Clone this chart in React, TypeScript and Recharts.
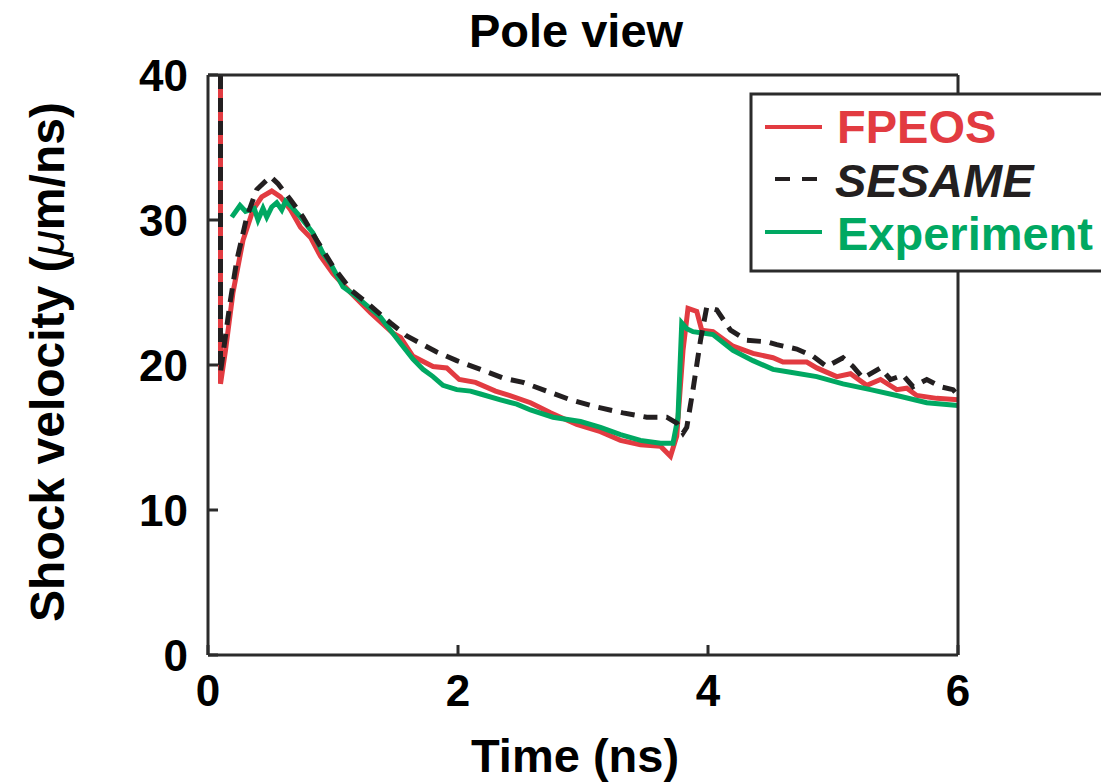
import React from 'react';
import { LineChart, Line, XAxis, YAxis } from 'recharts';

// time (ns) / shock velocity (um/ns)
const fpeosT = [0.1, 0.1, 0.14, 0.2, 0.28, 0.36, 0.43, 0.51, 0.58, 0.66, 0.74, 0.82, 0.9, 1.0, 1.14, 1.3, 1.48, 1.54, 1.64, 1.8, 1.91, 2.01, 2.14, 2.3, 2.41, 2.58, 2.74, 2.95, 3.14, 3.3, 3.46, 3.62, 3.7, 3.75, 3.8, 3.84, 3.91, 3.95, 4.04, 4.2, 4.36, 4.52, 4.6, 4.79, 4.87, 5.03, 5.14, 5.27, 5.38, 5.51, 5.59, 5.67, 5.83, 6.0];
const fpeosV = [40, 18.7, 21.0, 25.0, 28.6, 30.7, 31.6, 32.0, 31.6, 30.7, 29.5, 28.8, 27.5, 26.3, 25.0, 23.6, 22.2, 21.9, 20.6, 19.9, 19.8, 19.0, 18.8, 18.2, 17.9, 17.4, 16.7, 15.9, 15.4, 14.8, 14.5, 14.4, 13.7, 15.1, 21.0, 23.9, 23.7, 22.4, 22.3, 21.3, 20.8, 20.5, 20.2, 20.2, 19.8, 19.2, 19.4, 18.6, 19.0, 18.3, 18.4, 17.9, 17.7, 17.6];

const sesameT = [0.1, 0.1, 0.18, 0.23, 0.31, 0.39, 0.5, 0.56, 0.66, 0.76, 0.87, 1.0, 1.14, 1.27, 1.46, 1.59, 1.83, 1.99, 2.18, 2.36, 2.52, 2.71, 2.9, 3.11, 3.32, 3.51, 3.67, 3.75, 3.8, 3.83, 3.88, 3.94, 3.99, 4.07, 4.18, 4.31, 4.47, 4.55, 4.71, 4.84, 4.95, 5.08, 5.16, 5.24, 5.38, 5.46, 5.56, 5.64, 5.75, 5.86, 5.96, 6.0];
const sesameV = [40, 19.5, 24.5, 27.2, 30.2, 32.1, 33.0, 32.5, 31.4, 30.2, 28.6, 26.8, 25.2, 24.3, 22.9, 22.0, 20.9, 20.3, 19.7, 19.1, 18.8, 18.2, 17.6, 17.1, 16.7, 16.4, 16.4, 16.0, 15.3, 15.7, 18.3, 21.7, 24.0, 23.8, 22.4, 21.7, 21.6, 21.4, 21.1, 20.6, 19.9, 20.5, 19.9, 19.1, 19.8, 19.0, 19.3, 18.5, 19.0, 18.5, 18.3, 17.9];

const expT = [0.19, 0.256, 0.3, 0.37, 0.4, 0.44, 0.47, 0.51, 0.55, 0.59, 0.62, 0.67, 0.74, 0.84, 0.92, 0.98, 1.08, 1.19, 1.38, 1.54, 1.64, 1.72, 1.8, 1.88, 1.99, 2.1, 2.18, 2.34, 2.47, 2.58, 2.76, 2.98, 3.14, 3.3, 3.46, 3.62, 3.72, 3.76, 3.79, 3.83, 3.88, 4.04, 4.2, 4.36, 4.52, 4.66, 4.87, 5.08, 5.3, 5.51, 5.75, 6.0];
const expV = [30.2, 31.0, 30.6, 30.8, 30.0, 30.8, 30.2, 30.9, 31.2, 30.7, 31.3, 30.9, 30.2, 29.1, 27.7, 27.0, 25.4, 24.7, 23.3, 21.5, 20.4, 19.7, 19.2, 18.6, 18.3, 18.2, 18.0, 17.6, 17.3, 16.9, 16.4, 16.1, 15.7, 15.2, 14.8, 14.6, 14.6, 16.4, 22.9, 22.5, 22.3, 22.1, 21.0, 20.3, 19.7, 19.5, 19.2, 18.7, 18.3, 17.9, 17.4, 17.2];

const xTicks = [0, 2, 4, 6];
const yTicks = [0, 10, 20, 30, 40];

const toPoints = (t: number[], v: number[]) => t.map((x, i) => ({ t: x, v: v[i] }));

const RED = '#e23b41';
const BLACK = '#231f20';
const GREEN = '#00a862';
const FONT = '"Liberation Sans", Arial, Helvetica, sans-serif';

const tickStyle = { fontSize: 44, fontWeight: 700, fill: '#000', fontFamily: FONT };
const frame = { stroke: '#2b2b2b', strokeWidth: 3 };

export default function App() {
  return (
    <div style={{ position: 'absolute', left: 0, top: 0, width: 1101, height: 784, background: '#fff' }}>
      <LineChart width={1101} height={784} margin={{ top: 74, right: 142, bottom: 68, left: 128 }}>
        <XAxis xAxisId="b" type="number" dataKey="t" domain={[0, 6]} ticks={xTicks} interval={0}
          height={61} tickSize={-10} tickMargin={30} axisLine={frame} tickLine={frame} tick={tickStyle} allowDataOverflow />
        <XAxis xAxisId="t" orientation="top" type="number" dataKey="t" domain={[0, 6]} ticks={[2, 4]} interval={0}
          height={1} tickSize={-10} axisLine={frame} tickLine={frame} tick={false} allowDataOverflow />
        <YAxis yAxisId="l" type="number" domain={[0, 40]} ticks={yTicks} interval={0}
          width={80} tickSize={-10} tickMargin={30} axisLine={frame} tickLine={frame} tick={tickStyle} allowDataOverflow />
        <YAxis yAxisId="r" orientation="right" type="number" domain={[0, 40]} ticks={[10, 20, 30]} interval={0}
          width={1} tickSize={-10} axisLine={frame} tickLine={frame} tick={false} allowDataOverflow />
        <Line xAxisId="b" yAxisId="l" data={toPoints(fpeosT, fpeosV)} dataKey="v" type="linear"
          stroke={RED} strokeWidth={5} dot={false} isAnimationActive={false} />
        <Line xAxisId="b" yAxisId="l" data={toPoints(expT, expV)} dataKey="v" type="linear"
          stroke={GREEN} strokeWidth={5} dot={false} isAnimationActive={false} />
        <Line xAxisId="b" yAxisId="l" data={toPoints(sesameT, sesameV)} dataKey="v" type="linear"
          stroke={BLACK} strokeWidth={5} strokeDasharray="14 9" dot={false} isAnimationActive={false} />
      </LineChart>

      {/* title, axis labels and legend box */}
      <svg width={1101} height={784} style={{ position: 'absolute', left: 0, top: 0, pointerEvents: 'none' }}
        fontFamily={FONT} fontWeight={700}>
        <text x={576} y={47} fontSize={47} textAnchor="middle" fill="#000">Pole view</text>
        <text x={575} y={772} fontSize={47} textAnchor="middle" fill="#000">Time (ns)</text>
        <text transform="rotate(-90)" x={-362} y={64} fontSize={48} textAnchor="middle" fill="#000">
          Shock velocity (<tspan fontStyle="italic" fontWeight={400}>μ</tspan>m/ns)
        </text>

        <rect x={751} y={94} width={400} height={177} fill="#fff" stroke="#2b2b2b" strokeWidth={3} />
        <line x1={765} x2={822} y1={127} y2={127} stroke={RED} strokeWidth={4} />
        <text x={837} y={143} fontSize={47} fill={RED}>FPEOS</text>
        <line x1={775} x2={818} y1={179} y2={179} stroke={BLACK} strokeWidth={4} strokeDasharray="15 12" />
        <text x={835} y={197} fontSize={47} fill={BLACK} fontStyle="italic">SESAME</text>
        <line x1={765} x2={822} y1={232} y2={232} stroke={GREEN} strokeWidth={4} />
        <text x={837} y={250} fontSize={47} fill={GREEN}>Experiment</text>
      </svg>
    </div>
  );
}
